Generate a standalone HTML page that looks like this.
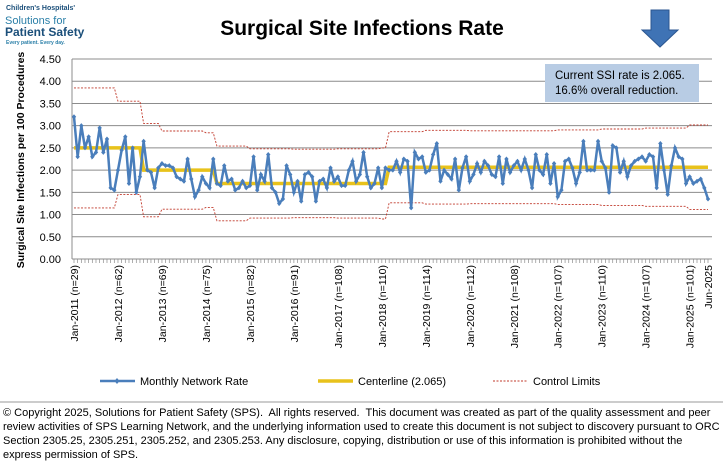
<!DOCTYPE html>
<html><head><meta charset="utf-8"><style>
body{margin:0;width:723px;height:469px;background:#fff;overflow:hidden;font-family:"Liberation Sans",Arial,sans-serif}
svg{position:absolute;left:0;top:0}
#foot{position:absolute;left:3px;top:406px;width:720px;font-size:11px;line-height:14px;color:#000}
</style></head><body>
<svg id="chart" width="723" height="469"></svg>
<div id="foot">© Copyright 2025, Solutions for Patient Safety (SPS).&nbsp; All rights reserved.&nbsp; This document was created as part of the quality assessment and peer review activities of SPS Learning Network, and the underlying information used to create this document is not subject to discovery pursuant to ORC Section 2305.25, 2305.251, 2305.252, and 2305.253. Any disclosure, copying, distribution or use of this information is prohibited without the express permission of SPS.</div>
<script>
const years=["Jan-2011 (n=29)","Jan-2012 (n=62)","Jan-2013 (n=69)","Jan-2014 (n=75)","Jan-2015 (n=82)","Jan-2016 (n=91)","Jan-2017 (n=108)","Jan-2018 (n=110)","Jan-2019 (n=114)","Jan-2020 (n=112)","Jan-2021 (n=108)","Jan-2022 (n=107)","Jan-2023 (n=110)","Jan-2024 (n=107)","Jan-2025 (n=101)","Jun-2025"];
const yTicks=[0,0.5,1,1.5,2,2.5,3,3.5,4,4.5];
const rates=[3.2,2.3,3.0,2.5,2.75,2.3,2.4,2.95,2.4,2.7,1.6,1.55,
2.0,2.45,2.75,1.7,2.5,1.5,1.85,2.65,2.0,1.95,1.6,2.05,
2.15,2.1,2.1,2.05,1.85,1.8,1.75,2.25,1.8,1.4,1.55,1.85,
1.7,1.6,2.25,1.7,1.65,2.1,1.75,1.8,1.55,1.6,1.75,1.6,
1.65,2.3,1.55,1.9,1.75,2.35,1.6,1.5,1.25,1.35,2.1,1.9,
1.5,1.75,1.3,1.9,1.95,1.85,1.3,1.75,1.8,1.6,2.05,1.75,
1.85,1.65,1.65,2.0,2.2,1.75,1.9,2.4,1.85,1.6,1.7,2.05,
1.6,2.05,2.0,2.0,2.2,1.95,2.25,2.2,1.15,2.4,2.25,2.3,
1.95,2.0,2.35,2.6,1.75,2.0,1.9,1.8,2.25,1.55,2.05,2.3,
1.75,1.9,2.15,1.95,2.2,2.1,1.9,1.85,2.3,1.7,2.25,1.95,
2.1,2.2,2.0,2.25,2.0,1.6,2.35,2.0,1.9,2.35,1.7,2.15,
1.4,1.55,2.2,2.25,2.05,1.7,1.95,2.65,2.0,2.0,2.0,2.65,
2.2,2.05,1.5,2.55,2.5,1.95,2.2,1.85,2.1,2.2,2.25,2.3,
2.2,2.35,2.3,1.6,2.6,2.0,1.45,2.1,2.5,2.3,2.25,1.7,
1.85,1.7,1.75,1.8,1.6,1.35];
const clStarts=[0,19,39,86];
const clValues=[2.5,2.0,1.7,2.065];
const limitWidth=[1.35,1.05,0.88,0.84,0.78,0.77,0.78,0.8,0.83,0.82,0.82,0.84,0.86,0.88,0.95];

const svg=document.getElementById('chart');const NS='http://www.w3.org/2000/svg';
function mk(t,a,p){const e=document.createElementNS(NS,t);for(const k in a)e.setAttribute(k,a[k]);(p||svg).appendChild(e);return e;}
const X0=74,X1=708,Y0=259,Y1=59;
const x=i=>X0+i*(X1-X0)/(rates.length-1);
const y=v=>Y0-v*(Y0-Y1)/4.5;
function cl(i){let c=clValues[0];clStarts.forEach((s,k)=>{if(i>=s)c=clValues[k];});return c;}
let t=mk('text',{x:362,y:35,'text-anchor':'middle','font-size':21,'font-weight':'bold',fill:'#000'});t.textContent='Surgical Site Infections Rate';


const lg=mk('g',{});


[['Children\'s Hospitals\'',6,10,7,'bold','#1b4f7a'],['Solutions for',5,24,11,'normal','#2a7fa8'],['Patient Safety',5,36,12,'bold','#1b4f7a'],['Every patient. Every day.',6,44,5,'bold','#2a7fa8']].forEach(a=>{const e=mk('text',{x:a[1],y:a[2],'font-size':a[3],'font-weight':a[4],fill:a[5]},lg);e.textContent=a[0];});
const ar=mk('path',{d:'M651 10 H669 V30 H678 L660 47 L642 30 H651 Z',fill:'#3f73b5',stroke:'#2b5690','stroke-width':1});


yTicks.forEach(v=>{const l=mk('line',{x1:72,x2:712,y1:y(v),y2:y(v),stroke:'#8c8c8c','stroke-width':1});


const tx=mk('text',{x:61,y:y(v)+4,'text-anchor':'end','font-size':11,fill:'#000'});tx.textContent=v.toFixed(2);

});
mk('line',{x1:72,x2:72,y1:Y1,y2:Y0,stroke:'#8c8c8c'});
for(let i=0;i<rates.length;i++){mk('line',{x1:x(i),x2:x(i),y1:Y0,y2:Y0+4,stroke:'#8c8c8c','stroke-width':0.7});}
years.forEach((s,k)=>{const i=k<15?k*12:rates.length-1;const tx=mk('text',{transform:`translate(${x(i)+4},${Y0+6}) rotate(-90)`,'text-anchor':'end','font-size':10.5,fill:'#000'});tx.textContent=s;

});
let yt=mk('text',{transform:'translate(24,160) rotate(-90)','text-anchor':'middle','font-size':10.5,'font-weight':'bold'});yt.textContent='Surgical Site Infections  per 100 Procedures';


let u='',lo='',c='';
rates.forEach((_,i)=>{const w=limitWidth[Math.floor(i/12)];const cv=cl(i);u+=(i?'L':'M')+x(i)+' '+y(cv+w);lo+=(i?'L':'M')+x(i)+' '+y(Math.max(0,cv-w));c+=(i?'L':'M')+x(i)+' '+y(cv);});
let p=mk('path',{d:u,fill:'none',stroke:'#c0392b','stroke-width':0.9,'stroke-dasharray':'2,1.5'});


p=mk('path',{d:lo,fill:'none',stroke:'#c0392b','stroke-width':0.9,'stroke-dasharray':'2,1.5'});


p=mk('path',{d:c,fill:'none',stroke:'#e8c21b','stroke-width':3.5});


p=mk('path',{d:rates.map((v,i)=>(i?'L':'M')+x(i)+' '+y(v)).join(''),fill:'none',stroke:'#4a7ebb','stroke-width':2.5});


rates.forEach((v,i)=>{const d=mk('path',{d:`M${x(i)} ${y(v)-2.5}l2.2 2.5l-2.2 2.5l-2.2 -2.5z`,fill:'#4a7ebb'});

});
const nb=mk('g',{});


mk('rect',{x:545,y:64,width:154,height:38,fill:'#b8cce4'},nb);
let n1=mk('text',{x:555,y:79,'font-size':11.5},nb);n1.textContent='Current SSI rate is 2.065.';
let n2=mk('text',{x:555,y:94,'font-size':11.5},nb);n2.textContent='16.6% overall reduction.';
const L=[[100,'Monthly Network Rate','#4a7ebb','',2.5],[318,'Centerline (2.065)','#e8c21b','',3.5],[493,'Control Limits','#c0392b','2,1.5',0.9]];
L.forEach(a=>{const g=mk('g',{});


mk('line',{x1:a[0],x2:a[0]+35,y1:381,y2:381,stroke:a[2],'stroke-width':a[4],'stroke-dasharray':a[3]},g);
if(!a[3]&&a[4]==2.5)mk('path',{d:`M${a[0]+17} 378l2.5 3l-2.5 3l-2.5 -3z`,fill:a[2]},g);
const tx=mk('text',{x:a[0]+40,y:385,'font-size':11},g);tx.textContent=a[1];});
mk('line',{x1:0,x2:723,y1:402,y2:402,stroke:'#999'});
</script>
</body></html>
